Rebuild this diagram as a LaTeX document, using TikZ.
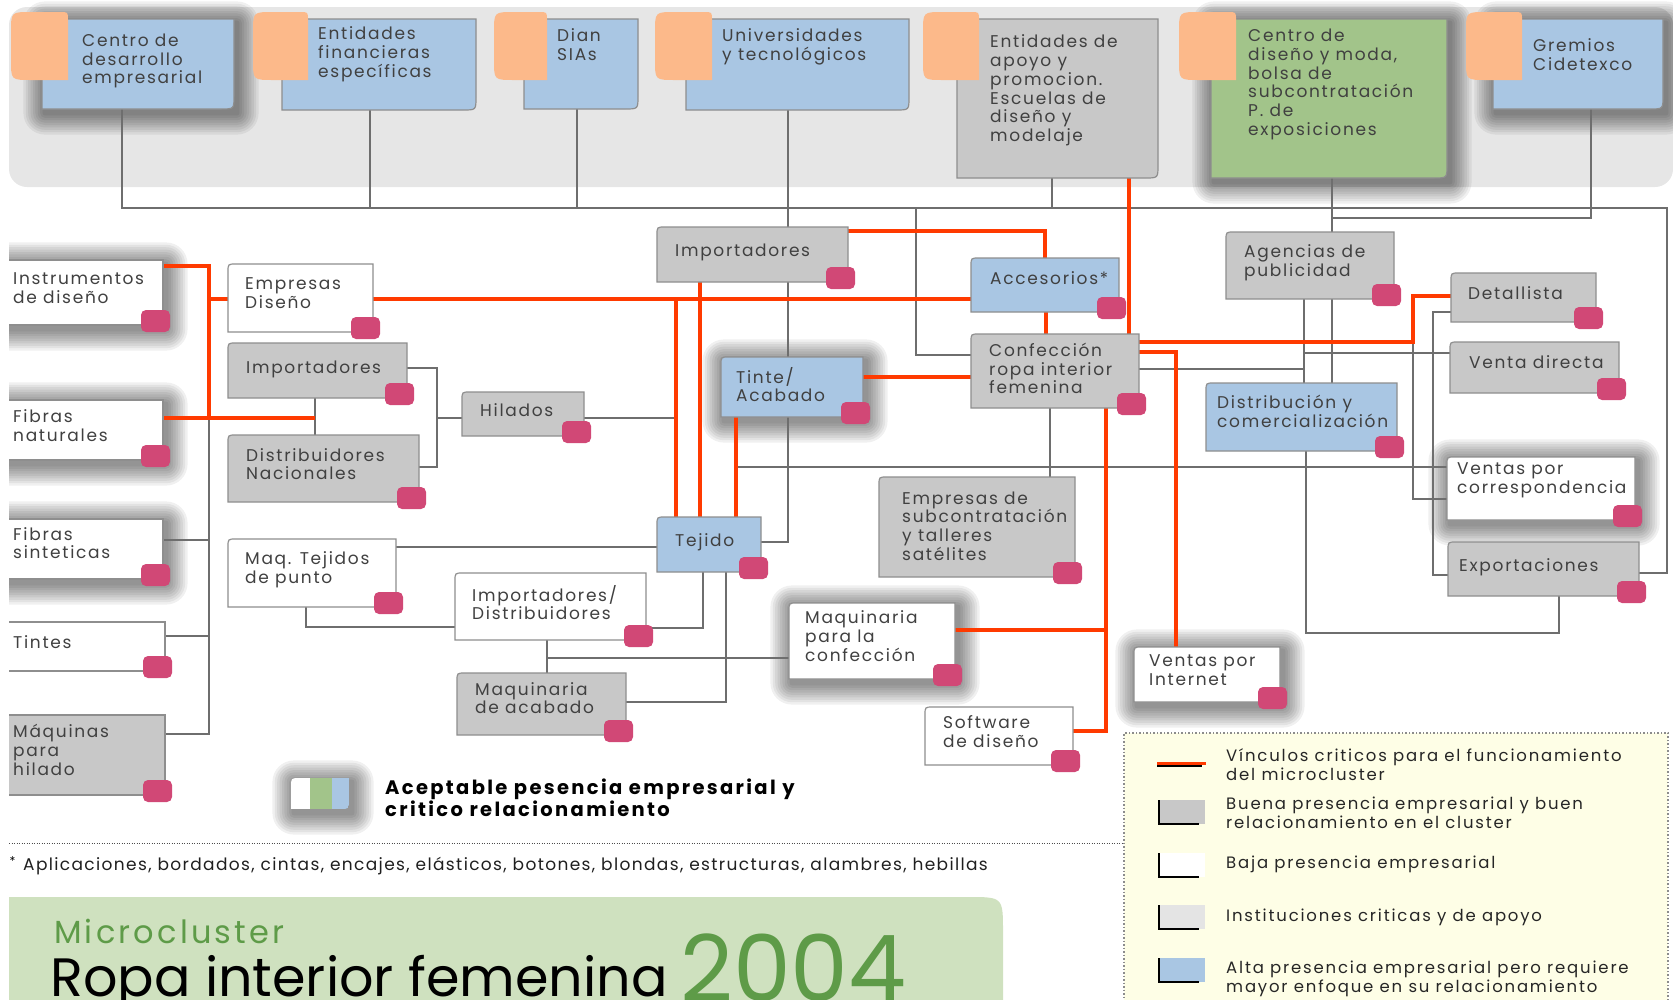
\documentclass[tikz,border=0pt]{standalone}
\usepackage{fontspec}
\setmainfont{Poppins}
\newfontfamily\nodef{Poppins}[LetterSpace=10]
\newfontfamily\legf{Poppins}[LetterSpace=11]
\newfontfamily\fnf{Poppins}[LetterSpace=8]
\newfontfamily\bldf{Poppins}[LetterSpace=12]
\newfontfamily\mcf{Poppins}[LetterSpace=10]
\newcommand\nf{\nodef\fontsize{17}{18.8}\selectfont}
\newcommand\lgf{\legf\fontsize{16.5}{19}\selectfont}
\usetikzlibrary{calc}
\definecolor{bandc}{HTML}{E6E6E6}
\definecolor{tabc}{HTML}{FCB98A}
\definecolor{bluec}{HTML}{A9C6E3}
\definecolor{greyc}{HTML}{C8C8C8}
\definecolor{greenc}{HTML}{A2C48A}
\definecolor{pinkc}{HTML}{D14876}
\definecolor{redc}{HTML}{FF3A00}
\definecolor{linec}{HTML}{6E6E6E}
\definecolor{borderc}{HTML}{8E8E8E}
\definecolor{txtc}{HTML}{404040}
\definecolor{legc}{HTML}{FEFEE6}
\definecolor{titlebg}{HTML}{CFE1BF}
\definecolor{titlegreen}{HTML}{5E9B48}
\definecolor{instc}{HTML}{E4E4E4}
\pgfdeclarelayer{back}\pgfdeclarelayer{shad}\pgfdeclarelayer{lines}\pgfdeclarelayer{boxes}
\pgfsetlayers{back,shad,lines,boxes,main}
\newcommand\mkb[5]{\node[bx, minimum width={#4-#2}, minimum height={#5-#3}] (#1) at (#2,#3) {};}
\newcommand\shd[1]{\foreach \i in {1,...,9}{\pgfmathsetmacro\rr{\i*2.4}\fill[black,opacity=0.06,rounded corners=\rr pt] ([xshift=3pt-\rr pt,yshift=\rr pt-4pt]#1.north west) rectangle ([xshift=3pt+\rr pt,yshift=-4pt-\rr pt]#1.south east);}}
\newcommand\pk[1]{\fill[pinkc,rounded corners=5pt] ([xshift=-22pt,yshift=15pt]#1.south east) rectangle ([xshift=7pt,yshift=-7pt]#1.south east);}
\newcommand\chb[2]{\path[#2] ([yshift=-8pt]#1.north west) .. controls (#1.north west) .. ([xshift=8pt]#1.north west) -- (#1.north east) -- (#1.south east) -- (#1.south west) -- cycle;}
\newcommand\plb[2]{\path[#2] (#1.north west) rectangle (#1.south east);}
\newcommand\tpb[2]{\path[#2] (#1.north west) -- (#1.north east) -- ([yshift=13pt]#1.south east) .. controls (#1.south east) .. ([xshift=-13pt]#1.south east) -- (#1.south west) -- cycle;}
\newcommand\tb[4]{\fill[tabc] (#3,#4) -- ({#1+20},#4) .. controls (#1,#4) .. (#1,{#4-20}) -- (#1,{#2+20}) .. controls (#1,#2) .. ({#1+20},#2) -- ({#3-8},#2) .. controls (#3,#2) .. (#3,{#2+8}) -- cycle;}
\begin{document}
\begin{tikzpicture}[x=1pt,y=-1pt,
 bx/.style={draw=none,fill=none,inner sep=0pt,outer sep=0pt,anchor=north west},
 tx/.style={anchor=west,align=left,inner sep=0pt,text=txtc,font=\nf},
 lt/.style={anchor=west,align=left,inner sep=0pt,text=black!85,font=\lgf},
 gl/.style={draw=linec,line width=1.8pt},
 rl/.style={draw=redc,line width=3.3pt},
 bf/.style={fill=#1,draw=borderc,line width=1.2pt}]
\useasboundingbox (0,0) rectangle (1673,999);
\begin{pgfonlayer}{back}
\fill[bandc,rounded corners=18pt] (9,7) rectangle (1673,187);
\end{pgfonlayer}
% ---------- box nodes
\mkb{tc1}{42}{19}{234}{109}
\mkb{tc2}{282}{19}{476}{110}
\mkb{tc3}{524}{19}{638}{109}
\mkb{tc4}{686}{19}{909}{110}
\mkb{tc5}{957}{19}{1158}{178}
\mkb{tc6}{1211}{19}{1447}{178}
\mkb{tc7}{1493}{19}{1663}{109}
\mkb{instr}{0}{260}{163}{325}
\mkb{fnat}{0}{400}{163}{460}
\mkb{fsin}{0}{519}{163}{579}
\mkb{tintes}{0}{622}{165}{671}
\mkb{maqh}{0}{715}{165}{795}
\mkb{empd}{228}{264}{373}{332}
\mkb{impL}{228}{343}{407}{398}
\mkb{distn}{228}{435}{419}{502}
\mkb{hil}{462}{392}{584}{436}
\mkb{maqt}{228}{539}{396}{607}
\mkb{impd}{455}{573}{646}{640}
\mkb{maqa}{457}{673}{626}{735}
\mkb{impT}{657}{227}{848}{282}
\mkb{tinte}{721}{357}{863}{417}
\mkb{tej}{657}{517}{761}{572}
\mkb{acc}{971}{258}{1119}{312}
\mkb{conf}{971}{334}{1139}{408}
\mkb{esub}{879}{477}{1075}{577}
\mkb{maqc}{789}{603}{955}{679}
\mkb{sw}{925}{707}{1073}{765}
\mkb{vint}{1134}{647}{1280}{702}
\mkb{agen}{1226}{232}{1394}{299}
\mkb{distc}{1206}{383}{1397}{451}
\mkb{det}{1451}{273}{1596}{322}
\mkb{vdir}{1450}{342}{1619}{393}
\mkb{vcor}{1447}{457}{1635}{520}
\mkb{exp}{1448}{542}{1639}{596}
\mkb{icon}{291}{778}{349}{809}
% ---------- texts
\node[tx] (tc1t) at (82,61) {Centro de\\desarrollo\\empresarial};
\node[tx] (tc2t) at (318,54) {Entidades\\financieras\\específicas};
\node[tx] (tc3t) at (557,45) {Dian\\SIAs};
\node[tx] (tc4t) at (722,46.5) {Universidades\\y tecnológicos};
\node[tx] (tc5t) at (990,90.5) {Entidades de\\apoyo y\\promocion.\\Escuelas de\\diseño y\\modelaje};
\node[tx] (tc6t) at (1248,84.5) {Centro de\\diseño y moda,\\bolsa de\\subcontratación\\P. de\\exposiciones};
\node[tx] (tc7t) at (1533,54.5) {Gremios\\Cidetexco};
\node[tx] (instrt) at (13,288.5) {Instrumentos\\de diseño};
\node[tx] (fnatt) at (13,425.5) {Fibras\\naturales};
\node[tx] (fsint) at (13,543) {Fibras\\sinteticas};
\node[tx] (tintest) at (13,642) {Tintes};
\node[tx] (maqht) at (13,750) {Máquinas\\para\\hilado};
\node[tx] (empdt) at (245,293.5) {Empresas\\Diseño};
\node[tx] (impLt) at (246,369) {Importadores};
\node[tx] (distnt) at (246,464) {Distribuidores\\Nacionales};
\node[tx] (hilt) at (480,410) {Hilados};
\node[tx] (maqtt) at (245,569.5) {Maq. Tejidos\\de punto};
\node[tx] (impdt) at (472,602.5) {Importadores/\\Distribuidores};
\node[tx] (maqat) at (475,698) {Maquinaria\\de acabado};
\node[tx] (impTt) at (675,252) {Importadores};
\node[tx] (tintet) at (736,384.5) {Tinte/\\Acabado};
\node[tx] (tejt) at (675,542) {Tejido};
\node[tx] (acct) at (990,278) {Accesorios*};
\node[tx] (conft) at (989,368.5) {Confección\\ropa interior\\femenina};
\node[tx] (esubt) at (902,526) {Empresas de\\subcontratación\\y talleres\\satélites};
\node[tx] (maqct) at (805,636) {Maquinaria\\para la\\confección};
\node[tx] (swt) at (943,731.5) {Software\\de diseño};
\node[tx] (vintt) at (1149,670.5) {Ventas por\\Internet};
\node[tx] (agent) at (1244,262.5) {Agencias de\\publicidad};
\node[tx] (distct) at (1217,411.5) {Distribución y\\comercialización};
\node[tx] (dett) at (1468,293) {Detallista};
\node[tx] (vdirt) at (1469,362) {Venta directa};
\node[tx] (vcort) at (1457,480.5) {Ventas por\\correspondencia};
\node[tx] (expt) at (1459,567) {Exportaciones};
% ---------- shadows
\begin{pgfonlayer}{shad}
\shd{tc1}\shd{tc6}\shd{tc7}\shd{instr}\shd{fnat}\shd{fsin}\shd{tinte}\shd{maqc}\shd{vint}\shd{vcor}\shd{icon}
\end{pgfonlayer}
% ---------- boxes
\begin{pgfonlayer}{boxes}
\tpb{tc1}{bf=bluec}\tpb{tc2}{bf=bluec}\tpb{tc3}{bf=bluec}\tpb{tc4}{bf=bluec}
\tpb{tc5}{bf=greyc}\tpb{tc6}{bf=greenc}\tpb{tc7}{bf=bluec}
\plb{instr}{bf=white}\plb{fnat}{bf=white}\plb{fsin}{bf=white}\plb{tintes}{bf=white}\plb{maqh}{bf=greyc}
\chb{empd}{bf=white}\chb{impL}{bf=greyc}\chb{distn}{bf=greyc}\chb{hil}{bf=greyc}
\chb{maqt}{bf=white}\chb{impd}{bf=white}\chb{maqa}{bf=greyc}\chb{impT}{bf=greyc}
\chb{tinte}{bf=bluec}\chb{tej}{bf=bluec}\chb{acc}{bf=bluec}\chb{conf}{bf=greyc}
\chb{esub}{bf=greyc}\chb{maqc}{bf=white}\chb{sw}{bf=white}\chb{vint}{bf=white}
\chb{agen}{bf=greyc}\chb{distc}{bf=bluec}\chb{det}{bf=greyc}\chb{vdir}{bf=greyc}
\chb{vcor}{bf=white}\chb{exp}{bf=greyc}
\end{pgfonlayer}
% ---------- tabs and pink markers
\tb{11}{12}{68}{80}\tb{253}{12}{308}{80}\tb{494}{12}{547}{80}\tb{655}{12}{712}{80}
\tb{923}{12}{979}{80}\tb{1179}{12}{1236}{80}\tb{1466}{12}{1522}{80}
\pk{instr}\pk{fnat}\pk{fsin}\pk{tintes}\pk{maqh}\pk{empd}\pk{impL}\pk{distn}\pk{hil}
\pk{maqt}\pk{impd}\pk{maqa}\pk{impT}\pk{tinte}\pk{tej}\pk{acc}\pk{conf}\pk{esub}
\pk{maqc}\pk{sw}\pk{vint}\pk{agen}\pk{distc}\pk{det}\pk{vdir}\pk{vcor}\pk{exp}
% ---------- connectors
\begin{pgfonlayer}{lines}
\draw[gl] (tc1.south -| 122,0) |- (1667,208) |- (exp.east |- 0,573);
\draw[gl] (tc2.south -| 370,0) -- (370,208);
\draw[gl] (tc3.south -| 577,0) -- (577,208);
\draw[gl] (tc4.south -| 788,0) -- (impT.north -| 788,0);
\draw[gl] (tc5.south -| 1052,0) -- (1052,208);
\draw[gl] (916,208) |- (conf.west |- 0,355);
\draw[gl] (tc6.south -| 1332,0) -- (agen.north -| 1332,0);
\draw[gl] (tc7.south -| 1591,0) |- (1332,218);
\draw[gl] (209,418) |- (maqh.east |- 0,734);
\draw[gl] (fsin.east |- 0,540) -- (209,540);
\draw[gl] (tintes.east |- 0,636) -- (209,636);
\draw[gl] (impL.south -| 315,0) -- (distn.north -| 315,0);
\draw[gl] (impL.east |- 0,368) -| (437,467) -- (distn.east |- 0,467);
\draw[gl] (437,418) -- (hil.west |- 0,418);
\draw[gl] (hil.east |- 0,418) -- (676,418);
\draw[gl] (impT.south -| 788,0) -- (tinte.north -| 788,0);
\draw[gl] (tinte.south -| 788,0) |- (tej.east |- 0,542);
\draw[gl] (736,467) -- (vcor.west |- 0,467);
\draw[gl] (maqt.east |- 0,547) -- (tej.west |- 0,547);
\draw[gl] (maqt.south -| 306,0) |- (impd.west |- 0,627);
\draw[gl] (tej.south -| 703,0) |- (impd.east |- 0,628);
\draw[gl] (tej.south -| 726,0) |- (maqa.east |- 0,702);
\draw[gl] (impd.south -| 547,0) -- (maqa.north -| 547,0);
\draw[gl] (547,658) -- (maqc.west |- 0,658);
\draw[gl] (conf.south -| 1050,0) -- (esub.north -| 1050,0);
\draw[gl] (conf.east |- 0,369) -- (1304,369);
\draw[gl] (agen.south -| 1304,0) -- (distc.north -| 1304,0);
\draw[gl] (agen.south -| 1332,0) -- (distc.north -| 1332,0);
\draw[gl] (1304,353) -- (vdir.west |- 0,353);
\draw[gl] (1413,342) |- (vcor.west |- 0,499);
\draw[gl] (det.west |- 0,312) -| (1433,575) -- (exp.west |- 0,575);
\draw[gl] (distc.south -| 1306,0) |- (1559,633) -- (exp.south -| 1559,0);
\draw[rl] (instr.east |- 0,266) -| (209,418);
\draw[rl] (209,299) -- (empd.west |- 0,299);
\draw[rl] (fnat.east |- 0,418) -- (315,418);
\draw[rl] (empd.east |- 0,299) -- (acc.west |- 0,299);
\draw[rl] (676,299) -- (tej.north -| 676,0);
\draw[rl] (impT.south -| 700,0) -- (tej.north -| 700,0);
\draw[rl] (impT.east |- 0,231) -| (acc.north);
\draw[rl] (tinte.east |- 0,377) -- (conf.west |- 0,377);
\draw[rl] (tinte.south -| 736,0) -- (tej.north -| 736,0);
\draw[rl] (acc.south -| 1046,0) -- (conf.north -| 1046,0);
\draw[rl] (conf.south -| 1106,0) |- (sw.east |- 0,731);
\draw[rl] (maqc.east |- 0,630) -- (1106,630);
\draw[rl] (conf.east |- 0,352) -| (vint.north -| 1176,0);
\draw[rl] (conf.east |- 0,342) -| (1413,296) -- (det.west |- 0,296);
\draw[rl] (tc5.south -| 1129,0) -- (conf.north -| 1129,0);
\end{pgfonlayer}
% ---------- icon and notes
\begin{scope}
\clip ([yshift=-9pt]icon.north west) .. controls (icon.north west) .. ([xshift=9pt]icon.north west) -- (icon.north east) -- ([yshift=9pt]icon.south east) .. controls (icon.south east) .. ([xshift=-9pt]icon.south east) -- (icon.south west) -- cycle;
\fill[white] (291,778) rectangle (310,809);
\fill[greenc] (310,778) rectangle (332,809);
\fill[bluec] (332,778) rectangle (349,809);
\end{scope}
\node[anchor=west,align=left,inner sep=0pt,font=\bldf\bfseries\fontsize{19.5}{21.5}\selectfont] (iconl) at (385,798) {Aceptable pesencia empresarial y\\critico relacionamiento};
\node[bx,minimum width=544,minimum height=290,fill=legc,draw=black!45,line width=1.5pt,dash pattern=on 1.5pt off 2pt] (legbox) at (1124,733) {};
\draw[black!70,line width=1pt,dash pattern=on 1pt off 1.5pt] (9,843) -- (legbox.west |- 0,843);
\node[anchor=west,inner sep=0pt,font=\fontsize{12}{12}\selectfont] (ast) at (9.5,861) {*};
\node[anchor=west,inner sep=0pt,text=black!88,font=\fnf\fontsize{17}{18}\selectfont] (fn) at (23,866) {Aplicaciones, bordados, cintas, encajes, elásticos, botones, blondas, estructuras, alambres, hebillas};
% legend
\draw[black,line width=2.5pt] (1157,766) -- (1202,766);
\draw[redc,line width=3pt] (1157,763) -- (1206,763);
\node[bx,minimum width=46,minimum height=24,fill=greyc] (sw2) at (1159,800) {};
\node[bx,minimum width=46,minimum height=24,fill=white] (sw3) at (1159,853) {};
\node[bx,minimum width=46,minimum height=24,fill=instc] (sw4) at (1159,905) {};
\node[bx,minimum width=46,minimum height=24,fill=bluec] (sw5) at (1159,958) {};
\foreach \s in {sw2,sw3,sw4,sw5}{\draw[black,line width=2.5pt] (\s.north west) |- ([xshift=-6pt]\s.south east);}
\node[lt] (l1t) at (1226,764.5) {Vínculos criticos para el funcionamiento\\del microcluster};
\node[lt] (l2t) at (1226,812.5) {Buena presencia empresarial y buen\\relacionamiento en el cluster};
\node[lt] (l3t) at (1226,864) {Baja presencia empresarial};
\node[lt] (l4t) at (1226,917) {Instituciones criticas y de apoyo};
\node[lt] (l5t) at (1226,978.5) {Alta presencia empresarial pero requiere\\mayor enfoque en su relacionamiento};
% title
\fill[titlebg] (9,1010) -- (9,897) -- (968,897) .. controls (1003,897) .. (1003,932) -- (1003,1010) -- cycle;
\node[anchor=base west,inner sep=0pt,text=titlegreen,font=\mcf\fontsize{32}{32}\selectfont] (mc) at (54,943) {Microcluster};
\node[anchor=base west,inner sep=0pt,text=black,font=\fontsize{54}{54}\selectfont] (rif) at (50,996) {Ropa interior femenina};
\node[anchor=base west,inner sep=0pt,text=titlegreen,font=\fontsize{92}{92}\selectfont] (yr) at (680,1001) {2004};
\fill[white] (-1,-1) rectangle (8.5,1001);
\end{tikzpicture}
\end{document}
